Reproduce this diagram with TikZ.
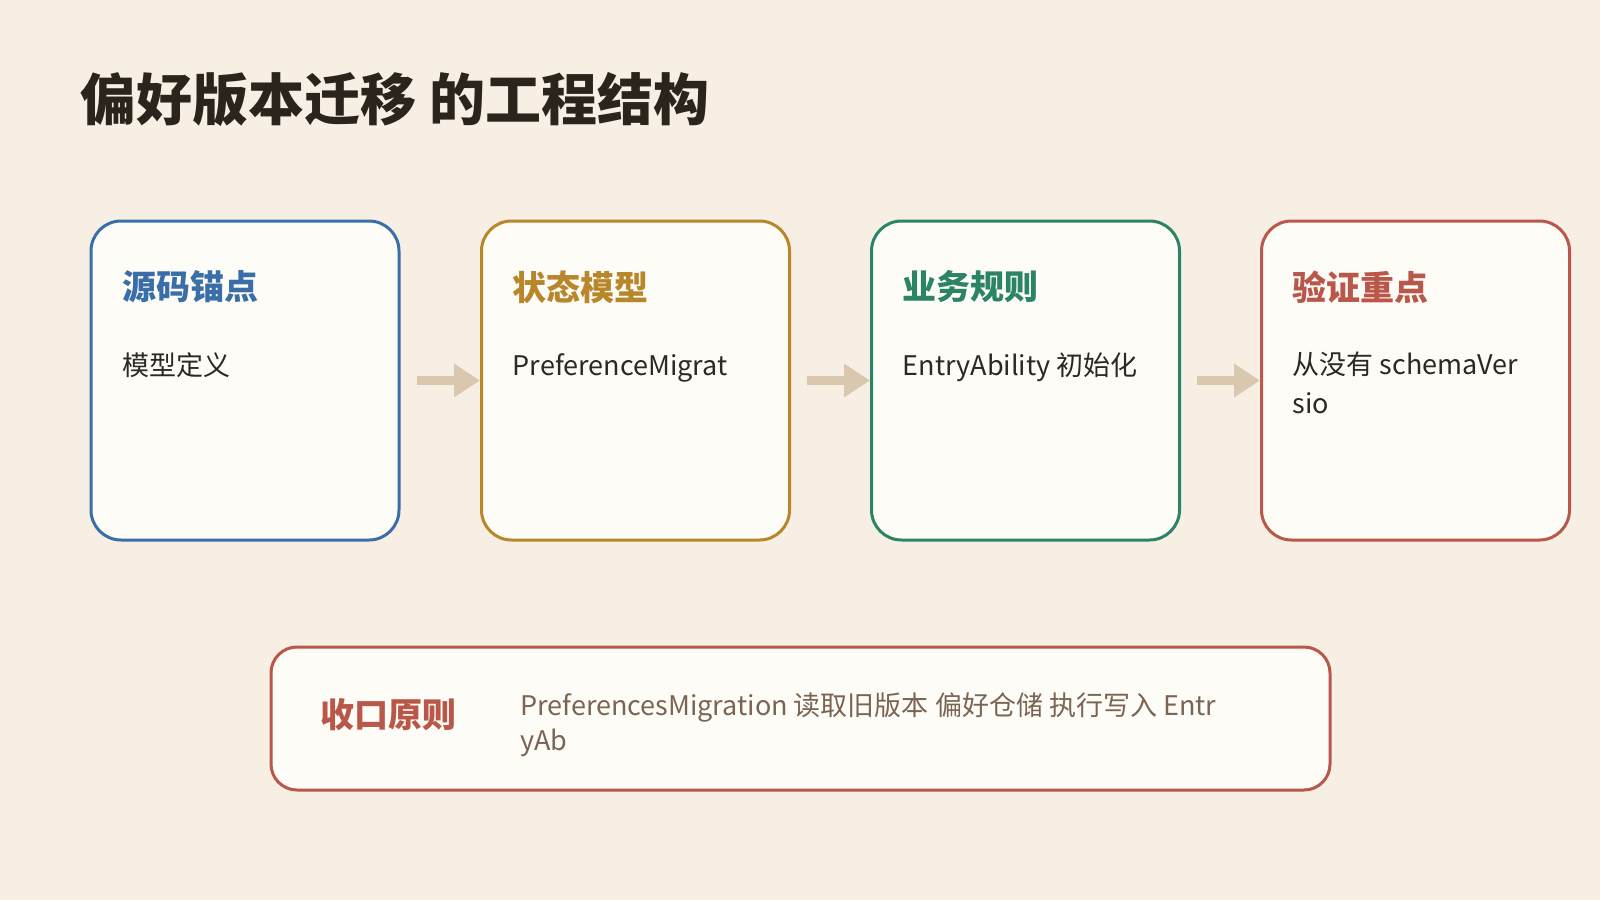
\documentclass[tikz,border=0pt]{standalone}
\usepackage{fontspec}
\setmainfont{Noto Sans CJK SC}
\usetikzlibrary{arrows.meta}
\definecolor{bg}{HTML}{F7EFE3}
\definecolor{cardfill}{HTML}{FEFCF6}
\definecolor{cblue}{HTML}{3A6EA9}
\definecolor{cgold}{HTML}{B8862B}
\definecolor{cgreen}{HTML}{2B8466}
\definecolor{cred}{HTML}{B8574A}
\definecolor{carrow}{HTML}{D9C8AE}
\definecolor{ctitle}{HTML}{2B241D}
\definecolor{cbody}{HTML}{2B2826}
\definecolor{cnote}{HTML}{7A6555}
\tikzset{
  card/.style={draw=#1, line width=1.5pt, fill=cardfill, rounded corners=15pt,
    minimum width=154pt, minimum height=159.5pt, inner sep=0pt},
  head/.style={anchor=west, inner sep=0pt, text=#1, font=\fontsize{17}{20}\selectfont\bfseries},
  body/.style={anchor=base west, inner sep=0pt, text=cbody, align=left, font=\fontsize{13.5}{19.5}\selectfont},
  bodytwo/.style={anchor=west, inner sep=0pt, text=cbody, align=left, font=\fontsize{13.5}{19.5}\selectfont},
  flow/.style={draw=carrow, line width=4.5pt, shorten <=8pt, -{Triangle[length=13pt,width=16pt]}},
}
\begin{document}
\begin{tikzpicture}[x=0.5pt,y=-0.5pt]
\fill[bg] (0,0) rectangle (1600,900);
\useasboundingbox (0,0) rectangle (1600,900);

\node[anchor=west, inner sep=0pt, text=ctitle, font=\fontsize{28}{32}\selectfont\bfseries] (title) at (80,99) {偏好版本迁移 的工程结构};

\node[card=cblue]  (b1) at (245,380.5) {};
\node[card=cgold]  (b2) at (635.5,380.5) {};
\node[card=cgreen] (b3) at (1025.5,380.5) {};
\node[card=cred]   (b4) at (1415.5,380.5) {};

\node[head=cblue]  (h1) at (122,287) {源码锚点};
\node[head=cgold]  (h2) at (512.5,287) {状态模型};
\node[head=cgreen] (h3) at (902.5,287) {业务规则};
\node[head=cred]   (h4) at (1292.5,287) {验证重点};

\node[body] (t1) at (122,375) {模型定义};
\node[body] (t2) at (512.5,375) {PreferenceMigrat};
\node[body] (t3) at (902.5,375) {EntryAbility 初始化};
\node[bodytwo] (t4) at (1292.5,382.5) {从没有 schemaVer\\sio};

\draw[flow] (b1.east) -- (b2.west);
\draw[flow] (b2.east) -- (b3.west);
\draw[flow] (b3.east) -- (b4.west);

\node[draw=cred, line width=1.5pt, fill=cardfill, rounded corners=13pt,
  minimum width=529.5pt, minimum height=71.5pt, inner sep=0pt] (sum) at (800.5,718.5) {};
\node[head=cred] (sh) at (320,715) {收口原则};
\node[anchor=west, inner sep=0pt, text=cnote, align=left, font=\fontsize{13.5}{17.5}\selectfont] (st) at (520,724.5) {PreferencesMigration 读取旧版本 偏好仓储 执行写入 Entr\\yAb};
\end{tikzpicture}
\end{document}
